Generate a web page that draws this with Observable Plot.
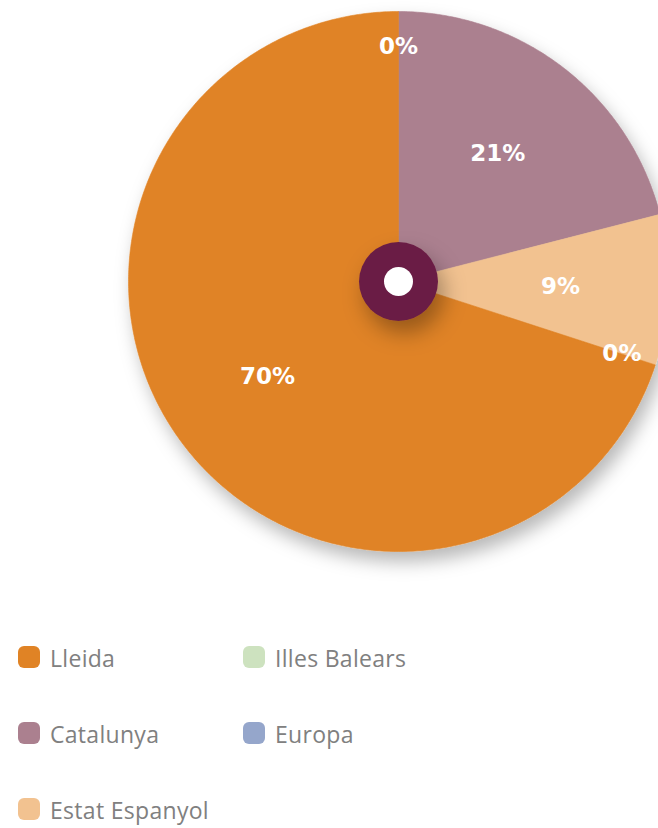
<!DOCTYPE html>
<html>
<head>
<meta charset="utf-8">
<script src="https://cdn.jsdelivr.net/npm/d3@7"></script>
<script src="https://cdn.jsdelivr.net/npm/@observablehq/plot@0.6"></script>
<style>
  html, body { margin: 0; padding: 0; background: #fff; }
  #wrap { position: relative; width: 658px; height: 828px; }
  #legend {
    position: absolute; left: 18px; top: 619px;
    display: grid; grid-auto-flow: column;
    grid-template-rows: repeat(3, 76px);
    grid-template-columns: 225px 240px;
    font-family: "Open Sans", sans-serif; font-size: 23px; letter-spacing: 0.3px; color: #808080;
    line-height: 1.2;
  }
  .item { display: flex; align-items: center; }
  .item span { position: relative; top: 2px; }
  .sw { width: 22px; height: 22px; border-radius: 6px; margin-right: 10px; flex: none; }
</style>
</head>
<body>
<div id="wrap">
  <div id="chart"></div>
  <div id="legend"></div>
</div>
<script>
// Data (pie order, clockwise from 12 o'clock)
const names  = ["Catalunya", "Estat Espanyol", "Europa", "Lleida", "Illes Balears"];
const values = [21, 9, 0, 70, 0];
const colors = ["#AB808F", "#F2C290", "#95A6CB", "#E08325", "#CDE2BF"];
// Legend order (column by column)
const legendOrder = ["Lleida", "Catalunya", "Estat Espanyol", "Illes Balears", "Europa"];

// Layout
const W = 658, H = 612, R = 270, CX = 398, CY = 281;

const total = d3.sum(values);
let acc = 0;
const slices = names.map((name, i) => {
  const a0 = acc / total * 2 * Math.PI;
  acc += values[i];
  const a1 = acc / total * 2 * Math.PI;
  return { name, value: values[i], a0, a1 };
});

// polygon vertices in unit-radius coordinates
const pts = [];
for (const s of slices) {
  if (s.value <= 0) continue;
  pts.push({ name: s.name, x: 0, y: 0 });
  const n = Math.max(2, Math.ceil((s.a1 - s.a0) / (Math.PI / 360)));
  for (let k = 0; k <= n; k++) {
    const a = s.a0 + (s.a1 - s.a0) * k / n;
    pts.push({ name: s.name, x: Math.sin(a), y: Math.cos(a) });
  }
  pts.push({ name: s.name, x: 0, y: 0 });
}

const labels = slices.map(s => {
  const m = (s.a0 + s.a1) / 2;
  const d = s.value > 0 ? 0.6 : 0.87;
  return { text: Math.round(s.value / total * 100) + "%", x: d * Math.sin(m), y: d * Math.cos(m) };
});

const chart = Plot.plot({
  width: W, height: H,
  margin: 0,
  x: { domain: [-CX / R, (W - CX) / R], axis: null },
  y: { domain: [-(H - CY) / R, CY / R], axis: null },
  color: { domain: names, range: colors },
  marks: [
    Plot.line(pts, { x: "x", y: "y", z: "name", fill: "name", stroke: "name", strokeWidth: 0.6, curve: "linear" }),
    Plot.dot([{ x: 0, y: 0 }], { x: "x", y: "y", r: 39.5, fill: "#6B1F45", stroke: null }),
    Plot.dot([{ x: 0, y: 0 }], { x: "x", y: "y", r: 14.5, fill: "#ffffff", stroke: null }),
    Plot.text(labels, { x: "x", y: "y", text: "text", fill: "white", fontSize: 23, fontWeight: "bold", fontFamily: "DejaVu Sans" })
  ]
});

const svg = d3.select(chart);
svg.insert("defs", ":first-child").html(
  '<filter id="pieShadow" x="-20%" y="-20%" width="150%" height="150%">' +
  '<feDropShadow dx="5" dy="10" stdDeviation="9" flood-color="#000" flood-opacity="0.28"/></filter>' +
  '<filter id="dotShadow" x="-100%" y="-100%" width="300%" height="300%">' +
  '<feDropShadow dx="6" dy="12" stdDeviation="11" flood-color="#000" flood-opacity="0.33"/></filter>'
);
svg.select('g[aria-label="line"]').attr("filter", "url(#pieShadow)");
svg.selectAll('g[aria-label="dot"]').filter((d, i) => i === 0).attr("filter", "url(#dotShadow)");
document.getElementById("chart").appendChild(chart);

const legend = d3.select("#legend");
for (const n of legendOrder) {
  const it = legend.append("div").attr("class", "item");
  it.append("div").attr("class", "sw").style("background", colors[names.indexOf(n)]);
  it.append("span").text(n);
}
</script>
</body>
</html>
